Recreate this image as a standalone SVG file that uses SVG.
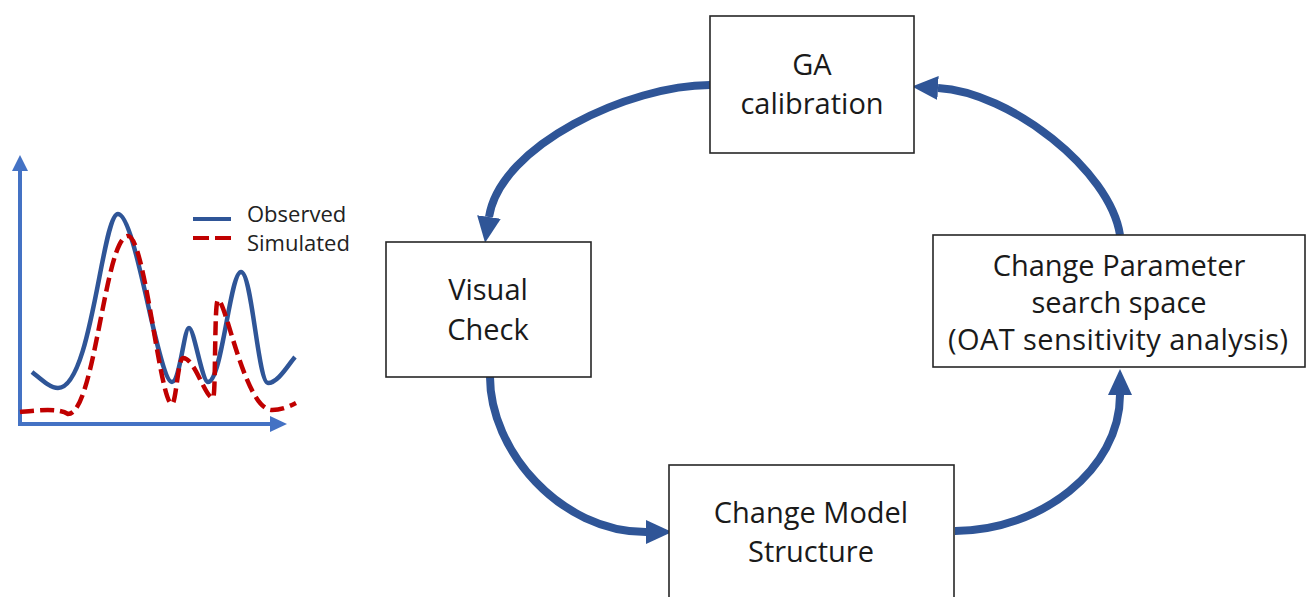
<svg xmlns="http://www.w3.org/2000/svg" width="1308" height="597" viewBox="0 0 1308 597">
<style>
.box{fill:#fff;stroke:#262626;stroke-width:1.6}
.lbl{font-family:"Open Sans","Liberation Sans",sans-serif;font-size:29px;fill:#1a1a1a;text-anchor:middle}
.leg{font-family:"Open Sans","Liberation Sans",sans-serif;font-size:22px;fill:#222}
.conn{fill:none;stroke:#2F5597;stroke-width:8;marker-end:url(#head)}
.axis{stroke:#4472C4;stroke-width:4;fill:none}
.obs{fill:none;stroke:#2F5597;stroke-width:4.5;stroke-linejoin:round}
.sim{fill:none;stroke:#C00000;stroke-width:4.5;stroke-dasharray:14,6}
</style>
<defs>
<marker id="head" markerUnits="userSpaceOnUse" markerWidth="26" markerHeight="24" refX="0" refY="12" orient="auto" viewBox="0 0 26 24">
<path d="M0,0 L26,12 L0,24 z" fill="#2F5597"/>
</marker>
</defs>
<rect width="1308" height="597" fill="#fff"/>
<g id="chart">
<line class="axis" x1="20" y1="426" x2="20" y2="170"/>
<polygon points="12,171 20,155 28,171" fill="#4472C4"/>
<line class="axis" x1="18" y1="424" x2="271" y2="424"/>
<polygon points="270,416 287,424 270,432" fill="#4472C4"/>
<path class="obs" d="M32,372 C42,380 50,388 58,388 C92,388 102,214 118,214 C136,214 158,382 172,382 C180,382 184,328 189,328 C194,328 202,382 208,382 C222,382 230,272 241,272 C252,272 258,383 268,383 C278,383 288,365 295,357"/>
<path class="sim" d="M20,412 C40,410 58,408 68,414 C95,414 105,236 128,236 C145,236 160,404 172,404 C176,404 178,358 183,358 C195,358 205,398 213,398 C216,398 214,300 218,300 C226,300 245,410 272,410 C282,410 290,406 296,403"/>
<line x1="193" y1="219" x2="231" y2="219" stroke="#2F5597" stroke-width="4"/>
<line x1="193" y1="238" x2="231" y2="238" stroke="#C00000" stroke-width="4" stroke-dasharray="16,6"/>
<text class="leg" x="247" y="222">Observed</text>
<text class="leg" x="247" y="251">Simulated</text>
</g>
<g id="connectors">
<path class="conn" d="M710,85 C630,85 500,145 489,217"/>
<path class="conn" d="M490,377 C490,450 560,532 646,532"/>
<path class="conn" d="M955,531 C1040,531 1120,470 1120,395"/>
<path class="conn" d="M1120,235 C1110,170 1010,92 938,88"/>
</g>
<g id="ga">
<rect class="box" x="710" y="16" width="204" height="137"/>
<text class="lbl" x="812" y="75">GA</text>
<text class="lbl" x="812" y="114">calibration</text>
</g>
<g id="visual">
<rect class="box" x="386" y="242" width="205" height="135"/>
<text class="lbl" x="488" y="300">Visual</text>
<text class="lbl" x="488" y="340">Check</text>
</g>
<g id="param">
<rect class="box" x="933" y="235" width="372" height="132"/>
<text class="lbl" x="1119" y="276">Change Parameter</text>
<text class="lbl" x="1119" y="313">search space</text>
<text class="lbl" x="1118" y="350" textLength="340" lengthAdjust="spacing">(OAT sensitivity analysis)</text>
</g>
<g id="model">
<rect class="box" x="669" y="465" width="285" height="140"/>
<text class="lbl" x="811" y="523">Change Model</text>
<text class="lbl" x="811" y="562">Structure</text>
</g>
</svg>
